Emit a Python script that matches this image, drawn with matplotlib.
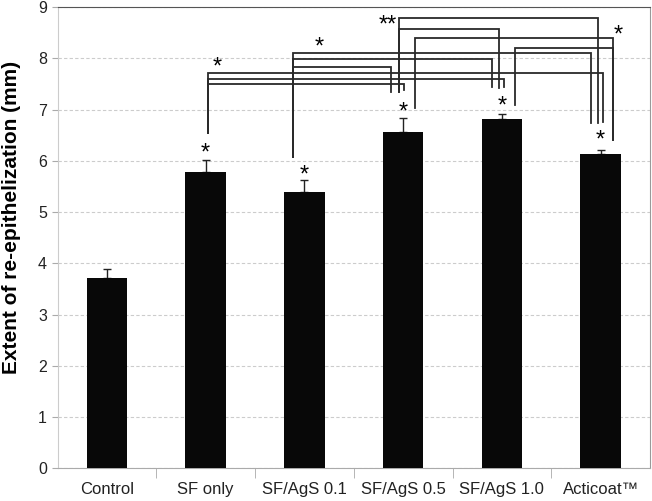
import matplotlib.pyplot as plt
import numpy as np

plt.rcParams['font.family'] = ['Liberation Sans', 'DejaVu Sans']

groups = ["Control", "SF only", "SF/AgS 0.1", "SF/AgS 0.5", "SF/AgS 1.0", "Acticoat\u2122"]
means = [3.71, 5.79, 5.39, 6.56, 6.82, 6.14]
errs = [0.18, 0.23, 0.24, 0.28, 0.09, 0.08]
# height of the "*" above each bar (None = no mark)
star_y = [None, 6.27, 5.85, 7.08, 7.19, 6.54]

# significance brackets: (left x, left foot, right x, right foot, bar height)
brackets = [
    (1.02, 6.54, 3.01, 7.38, 7.49),
    (1.02, 6.54, 4.02, 7.44, 7.60),
    (1.02, 6.54, 5.02, 6.76, 7.71),
    (1.88, 6.08, 2.88, 7.35, 7.83),
    (1.88, 6.08, 3.90, 7.44, 7.99),
    (1.88, 6.08, 4.90, 6.74, 8.10),
    (2.96, 7.35, 3.97, 7.42, 8.58),
    (2.96, 7.35, 4.97, 6.74, 8.78),
    (3.12, 7.03, 5.12, 6.41, 8.39),
    (4.13, 7.09, 5.12, 6.41, 8.21),
]
bracket_stars = [(1.12, 7.95, "*"), (2.15, 8.35, "*"), (2.84, 8.78, "**"), (5.18, 8.58, "*")]

STAR_SHIFT = 0.35  # "*" glyph sits high in its text box


def star(ax, x, y, s):
    ax.text(x, y - STAR_SHIFT, s, ha="center", va="bottom", fontsize=17, zorder=4)


fig = plt.figure(figsize=(6.52, 5.01), dpi=100)
ax = fig.add_axes([0.0882, 0.0649, 0.9088, 0.9211])

x = np.arange(len(groups))
ax.bar(x, means, width=0.41, color="#080808", zorder=3)
ax.errorbar(x, means, yerr=[np.zeros(len(errs)), errs], fmt="none",
            ecolor="#222222", elinewidth=1, capsize=3, capthick=1, zorder=2)

for xi, sy in zip(x, star_y):
    if sy is not None:
        star(ax, xi, sy, "*")

for x1, f1, x2, f2, h in brackets:
    ax.plot([x1, x1, x2, x2], [f1, h, h, f2], color="#2a2a2a", lw=1.3, zorder=4,
            solid_joinstyle="miter")

for bx, by, s in bracket_stars:
    star(ax, bx, by, s)

ax.set_xlim(-0.5, 5.5)
ax.set_ylim(0, 9)
ax.set_yticks(range(10))
ax.set_xticks(x)
ax.set_xticklabels(groups, fontsize=12, color="#222222")
ax.set_xticks(np.arange(0.5, 5.5, 1), minor=True)
ax.tick_params(axis="x", which="major", length=0, pad=10)
ax.tick_params(axis="x", which="minor", length=7, color="#aaaaaa")
ax.tick_params(axis="y", labelsize=11.5, length=4, color="#aaaaaa", labelcolor="#222222")
ax.yaxis.grid(True, linestyle=(0, (3, 2)), color="#cccccc", lw=0.8, zorder=0)
ax.set_axisbelow(True)

ax.set_ylabel("Extent of re-epithelization (mm)", fontsize=15, fontweight="bold")
ax.yaxis.set_label_coords(-0.061, 0.545)

ax.spines["top"].set_color("#555555")
ax.spines["right"].set_color("#999999")
ax.spines["left"].set_color("#cccccc")
ax.spines["bottom"].set_color("#aaaaaa")

fig.savefig("out.png", dpi=100)
